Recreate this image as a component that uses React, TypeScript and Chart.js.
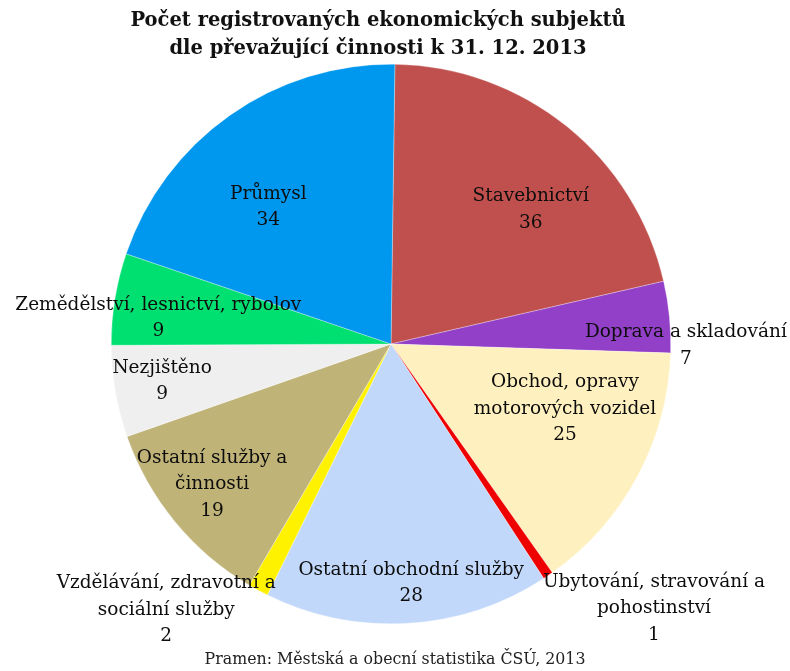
import React, { useEffect, useRef } from "react";
import { Chart, registerables } from "chart.js";

Chart.register(...registerables);

const titleLines = [
  "Počet registrovaných ekonomických subjektů",
  "dle převažující činnosti k 31. 12. 2013",
];
const sourceNote = "Pramen: Městská a obecní statistika ČSÚ, 2013";

const categories = [
  "Stavebnictví",
  "Doprava a skladování",
  "Obchod, opravy motorových vozidel",
  "Ubytování, stravování a pohostinství",
  "Ostatní obchodní služby",
  "Vzdělávání, zdravotní a sociální služby",
  "Ostatní služby a činnosti",
  "Nezjištěno",
  "Zemědělství, lesnictví, rybolov",
  "Průmysl",
];
const values = [36, 7, 25, 1, 28, 2, 19, 9, 9, 34];
const labelLines = [
  ["Stavebnictví"],
  ["Doprava a skladování"],
  ["Obchod, opravy", "motorových vozidel"],
  ["Ubytování, stravování a", "pohostinství"],
  ["Ostatní obchodní služby"],
  ["Vzdělávání, zdravotní a", "sociální služby"],
  ["Ostatní služby a", "činnosti"],
  ["Nezjištěno"],
  ["Zemědělství, lesnictví, rybolov"],
  ["Průmysl"],
];
const colors = [
  "#C0504D",
  "#9340C8",
  "#FFF1BF",
  "#EE0000",
  "#C2D8FA",
  "#FFF200",
  "#C0B378",
  "#EFEFEF",
  "#00E070",
  "#0098EE",
];
// label placement: fraction of radius and angular shift (deg) from slice middle
const labelRadius = [0.693, 1.054, 0.664, 1.333, 0.858, 1.244, 0.813, 0.829, 0.837, 0.657];
const labelShift = [7.2, 5.9, -7.8, -10.7, -1.4, 11.9, 1.3, 0.5, -2.9, -6.7];

const FONT = "'DejaVu Serif', serif";

const labelPlugin = {
  id: "pieLabels",
  afterDraw(chart: any) {
    const ctx = chart.ctx;
    const meta = chart.getDatasetMeta(0);
    ctx.save();
    ctx.fillStyle = "#0d0d0d";
    ctx.textAlign = "center";
    ctx.textBaseline = "middle";
    ctx.font = `18.5px ${FONT}`;
    const lh = 26.5;
    meta.data.forEach((arc: any, i: number) => {
      const p = arc.getProps(["x", "y", "startAngle", "endAngle", "outerRadius"], true);
      const mid = (p.startAngle + p.endAngle) / 2 + (labelShift[i] * Math.PI) / 180;
      const cx = p.x + Math.cos(mid) * labelRadius[i] * p.outerRadius;
      const cy = p.y + Math.sin(mid) * labelRadius[i] * p.outerRadius;
      const lines = [...labelLines[i], String(values[i])];
      const y0 = cy - ((lines.length - 1) * lh) / 2;
      lines.forEach((t, j) => ctx.fillText(t, cx, y0 + j * lh));
    });
    // title
    ctx.font = `bold 19.5px ${FONT}`;
    ctx.fillStyle = "#111";
    ctx.fillText(titleLines[0], 378, 21);
    ctx.fillText(titleLines[1], 378, 49);
    // source
    ctx.font = `15.8px ${FONT}`;
    ctx.fillStyle = "#222";
    ctx.fillText(sourceNote, 395, 660);
    ctx.restore();
  },
};

export default function App() {
  const ref = useRef<HTMLCanvasElement | null>(null);
  useEffect(() => {
    if (!ref.current) return;
    const chart = new Chart(ref.current, {
      type: "pie",
      data: {
        labels: categories,
        datasets: [
          {
            data: values,
            backgroundColor: colors,
            borderColor: "rgba(255,255,255,0.6)",
            borderWidth: 0.5,
          },
        ],
      },
      options: {
        responsive: false,
        animation: false,
        rotation: 0.8,
        layout: { padding: { top: 64, bottom: 47, left: 111, right: 119 } },
        plugins: {
          legend: { display: false },
          tooltip: { enabled: false },
          title: { display: false },
        },
      },
      plugins: [labelPlugin],
    });
    return () => chart.destroy();
  }, []);
  return (
    <div style={{ position: "fixed", left: 0, top: 0, width: 790, height: 671, background: "#fff" }}>
      <canvas ref={ref} width={790} height={671} style={{ width: 790, height: 671 }} />
    </div>
  );
}
